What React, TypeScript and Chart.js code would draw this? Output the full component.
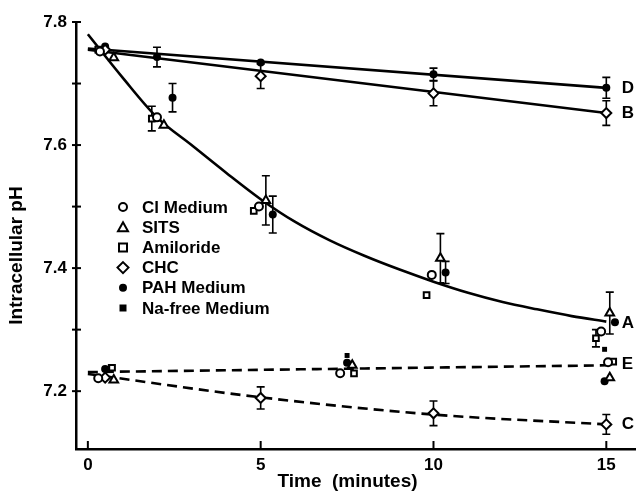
import React, { useEffect, useRef } from "react";
import { Chart, registerables } from "chart.js";

Chart.register(...registerables);

const FONT = "'Liberation Sans', Arial, sans-serif";

// ---- axes ----
const xTickValues = [0, 5, 10, 15];
const xTickLabels = ["0", "5", "10", "15"];
const yTickValues = [7.2, 7.3, 7.4, 7.5, 7.6, 7.7, 7.8];
const yTickLabels = ["7.2", "", "7.4", "", "7.6", "", "7.8"];
const xTitle = "Time  (minutes)";
const yTitle = "Intracellular pH";

// ---- fitted lines ----
const curveA_t = [0, 1, 2, 3, 4, 5, 6, 7, 8, 9, 10, 11, 12, 13, 14, 15];
const curveA_pH = [7.78, 7.71, 7.645, 7.6, 7.555, 7.512, 7.475, 7.445, 7.42, 7.398, 7.378, 7.36, 7.345, 7.333, 7.322, 7.313];
const lineB_t = [0, 15];
const lineB_pH = [7.755, 7.652];
const lineD_t = [0, 15];
const lineD_pH = [7.757, 7.693];
const lineE_t = [0, 15];
const lineE_pH = [7.231, 7.242];
const curveC_t = [0, 5, 10, 15];
const curveC_pH = [7.228, 7.19, 7.162, 7.146];

const curveLabels = ["D", "B", "A", "E", "C"];
const curveLabelPH = [7.693, 7.652, 7.31, 7.243, 7.146];
const curveLabelT = 15.45;

// ---- measured series ----
const clT = [0.35, 2.0, 4.95, 7.3, 9.95, 14.85, 15.05, 0.3];
const clPH = [7.752, 7.645, 7.5, 7.229, 7.389, 7.297, 7.247, 7.221];
const clErr = [0, 0, 0, 0, 0, 0, 0, 0];

const sitsT = [0.75, 2.2, 5.15, 7.65, 10.2, 15.1, 0.75, 15.1];
const sitsPH = [7.742, 7.632, 7.51, 7.242, 7.416, 7.327, 7.218, 7.222];
const sitsErr = [0, 0, 0.04, 0, 0.04, 0.034, 0, 0];

const amiT = [0.3, 1.85, 4.8, 7.7, 9.8, 14.7, 15.2, 0.7];
const amiPH = [7.755, 7.643, 7.493, 7.229, 7.356, 7.286, 7.248, 7.238];
const amiErr = [0, 0.02, 0, 0, 0, 0.014, 0, 0];

const chcT = [0.5, 5, 10, 15, 0.5, 5, 10, 15];
const chcPH = [7.755, 7.712, 7.684, 7.652, 7.222, 7.189, 7.164, 7.146];
const chcErr = [0, 0.02, 0.02, 0.02, 0, 0.018, 0.02, 0.016];

const pahT = [0.5, 2.45, 5.35, 10.35, 15.25, 0.5, 7.5, 14.95, 2.0, 5.0, 10.0, 15.0];
const pahPH = [7.76, 7.677, 7.487, 7.393, 7.312, 7.236, 7.246, 7.216, 7.743, 7.734, 7.715, 7.693];
const pahErr = [0, 0.023, 0.03, 0.018, 0, 0, 0, 0, 0.016, 0, 0.01, 0.017];

const naT = [0.65, 7.5, 14.95];
const naPH = [7.24, 7.258, 7.268];
const naErr = [0, 0, 0];

const legendNames = ["Cl Medium", "SITS", "Amiloride", "CHC", "PAH Medium", "Na-free Medium"];
const legendStyles = ["circle", "triangle", "rect", "rectRot", "dot", "smallrect"];

function pts(t: number[], p: number[]) {
  return t.map((x, i) => ({ x, y: p[i] }));
}

function drawMarker(ctx: CanvasRenderingContext2D, style: string, x: number, y: number) {
  ctx.save();
  ctx.strokeStyle = "#000";
  ctx.fillStyle = "#fff";
  ctx.lineWidth = 2;
  ctx.beginPath();
  if (style === "circle") {
    ctx.arc(x, y, 4, 0, Math.PI * 2);
    ctx.fill();
    ctx.stroke();
  } else if (style === "triangle") {
    ctx.moveTo(x, y - 5);
    ctx.lineTo(x + 5, y + 4);
    ctx.lineTo(x - 5, y + 4);
    ctx.closePath();
    ctx.fill();
    ctx.stroke();
  } else if (style === "rect") {
    ctx.rect(x - 4, y - 4, 8, 8);
    ctx.fill();
    ctx.stroke();
  } else if (style === "rectRot") {
    ctx.moveTo(x, y - 5.5);
    ctx.lineTo(x + 5.5, y);
    ctx.lineTo(x, y + 5.5);
    ctx.lineTo(x - 5.5, y);
    ctx.closePath();
    ctx.fill();
    ctx.stroke();
  } else if (style === "dot") {
    ctx.fillStyle = "#000";
    ctx.arc(x, y, 4, 0, Math.PI * 2);
    ctx.fill();
  } else if (style === "smallrect") {
    ctx.fillStyle = "#000";
    ctx.rect(x - 3.5, y - 3.5, 7, 7);
    ctx.fill();
  }
  ctx.restore();
}

const overlayPlugin = {
  id: "overlay",
  beforeDatasetsDraw(chart: any) {
    const { ctx, scales } = chart;
    const xs = scales.x;
    const ys = scales.y;
    ctx.save();
    ctx.strokeStyle = "#000";
    ctx.lineWidth = 1.6;
    chart.data.datasets.forEach((ds: any) => {
      if (!ds.errors) return;
      ds.data.forEach((pt: any, i: number) => {
        const e = ds.errors[i];
        if (!e) return;
        const px = xs.getPixelForValue(pt.x);
        const y1 = ys.getPixelForValue(pt.y + e);
        const y2 = ys.getPixelForValue(pt.y - e);
        ctx.beginPath();
        ctx.moveTo(px, y1);
        ctx.lineTo(px, y2);
        ctx.moveTo(px - 4, y1);
        ctx.lineTo(px + 4, y1);
        ctx.moveTo(px - 4, y2);
        ctx.lineTo(px + 4, y2);
        ctx.stroke();
      });
    });
    ctx.restore();
  },
  afterDraw(chart: any) {
    const { ctx, scales, chartArea } = chart;
    const xs = scales.x;
    const ys = scales.y;
    ctx.save();
    // tick marks
    ctx.strokeStyle = "#000";
    ctx.lineWidth = 2;
    xTickValues.forEach((v) => {
      const px = xs.getPixelForValue(v);
      ctx.beginPath();
      ctx.moveTo(px, chartArea.bottom);
      ctx.lineTo(px, chartArea.bottom - 8);
      ctx.stroke();
    });
    yTickValues.forEach((v) => {
      const py = ys.getPixelForValue(v);
      ctx.beginPath();
      ctx.moveTo(chartArea.left - 4, py);
      ctx.lineTo(chartArea.left + 5, py);
      ctx.stroke();
    });
    // curve labels
    ctx.fillStyle = "#000";
    ctx.font = "bold 17px " + FONT;
    ctx.textAlign = "left";
    ctx.textBaseline = "middle";
    curveLabels.forEach((l, i) => {
      ctx.fillText(l, xs.getPixelForValue(curveLabelT), ys.getPixelForValue(curveLabelPH[i]));
    });
    // legend
    const lx = chartArea.left + 47;
    const ly = chartArea.top + 185;
    legendNames.forEach((n, i) => {
      const y = ly + i * 20.2;
      drawMarker(ctx, legendStyles[i], lx, y);
      ctx.fillStyle = "#000";
      ctx.font = "bold 17px " + FONT;
      ctx.textAlign = "left";
      ctx.textBaseline = "middle";
      ctx.fillText(n, lx + 19, y + 1);
    });
    // axis titles
    ctx.font = "bold 19px " + FONT;
    ctx.textAlign = "center";
    ctx.textBaseline = "middle";
    ctx.fillText(xTitle, (chartArea.left + chartArea.right) / 2 - 8, chartArea.bottom + 33);
    ctx.translate(17, (chartArea.top + chartArea.bottom) / 2 + 20);
    ctx.rotate(-Math.PI / 2);
    ctx.fillText(yTitle, 0, 0);
    ctx.restore();
  },
};

const lineDs = (label: string, t: number[], p: number[], dashed: boolean, tension: number) => ({
  label,
  data: pts(t, p),
  showLine: true,
  borderColor: "#000",
  borderWidth: 2.6,
  borderDash: dashed ? [10, 6] : [],
  pointRadius: 0,
  tension,
  cubicInterpolationMode: "monotone",
  fill: false,
  order: 10,
});

const markerDs = (label: string, t: number[], p: number[], err: number[], style: string, filled: boolean, r: number) => ({
  label,
  data: pts(t, p),
  errors: err,
  showLine: false,
  pointStyle: style,
  pointRadius: r,
  pointBorderWidth: filled ? 0 : 2,
  pointBorderColor: "#000",
  pointBackgroundColor: filled ? "#000" : "#fff",
  order: 1,
});

export default function App() {
  const ref = useRef<HTMLCanvasElement>(null);
  useEffect(() => {
    if (!ref.current) return;
    const chart = new Chart(ref.current, {
      type: "scatter",
      data: {
        datasets: [
          lineDs("A", curveA_t, curveA_pH, false, 0.4),
          lineDs("B", lineB_t, lineB_pH, false, 0),
          lineDs("D", lineD_t, lineD_pH, false, 0),
          lineDs("E", lineE_t, lineE_pH, true, 0),
          lineDs("C", curveC_t, curveC_pH, true, 0.4),
          markerDs("Cl Medium", clT, clPH, clErr, "circle", false, 4),
          markerDs("SITS", sitsT, sitsPH, sitsErr, "triangle", false, 5),
          markerDs("Amiloride", amiT, amiPH, amiErr, "rect", false, 4),
          markerDs("CHC", chcT, chcPH, chcErr, "rectRot", false, 5),
          markerDs("PAH Medium", pahT, pahPH, pahErr, "circle", true, 4),
          markerDs("Na-free Medium", naT, naPH, naErr, "rect", true, 3.5),
        ] as any,
      },
      options: {
        animation: false,
        responsive: false,
        maintainAspectRatio: false,
        devicePixelRatio: 1,
        layout: { padding: { top: 22, right: 0, left: 0, bottom: 0 } },
        plugins: { legend: { display: false }, tooltip: { enabled: false } },
        scales: {
          x: {
            type: "linear",
            min: -0.343,
            max: 15.83,
            grid: { display: false, drawTicks: false },
            border: { display: true, color: "#000", width: 2.5 },
            afterBuildTicks: (s: any) => {
              s.ticks = xTickValues.map((v) => ({ value: v }));
            },
            afterFit: (s: any) => {
              s.height = 44;
            },
            ticks: {
              padding: 6,
              color: "#000",
              font: { family: FONT, size: 17, weight: "bold" },
              callback: (v: any) => {
                const i = xTickValues.indexOf(Number(v));
                return i >= 0 ? xTickLabels[i] : "";
              },
            },
          },
          y: {
            type: "linear",
            min: 7.106,
            max: 7.8,
            grid: { display: false, drawTicks: false },
            border: { display: true, color: "#000", width: 2.5 },
            afterBuildTicks: (s: any) => {
              s.ticks = yTickValues.map((v) => ({ value: v }));
            },
            afterFit: (s: any) => {
              s.width = 76;
            },
            ticks: {
              padding: 9,
              color: "#000",
              font: { family: FONT, size: 17, weight: "bold" },
              callback: (v: any) => {
                const i = yTickValues.findIndex((t) => Math.abs(t - Number(v)) < 1e-6);
                return i >= 0 ? yTickLabels[i] : "";
              },
            },
          },
        },
      },
      plugins: [overlayPlugin],
    });
    return () => chart.destroy();
  }, []);
  return (
    <div style={{ position: "absolute", left: 0, top: 0, width: 642, height: 493, background: "#fff" }}>
      <canvas ref={ref} width={642} height={493} />
    </div>
  );
}
